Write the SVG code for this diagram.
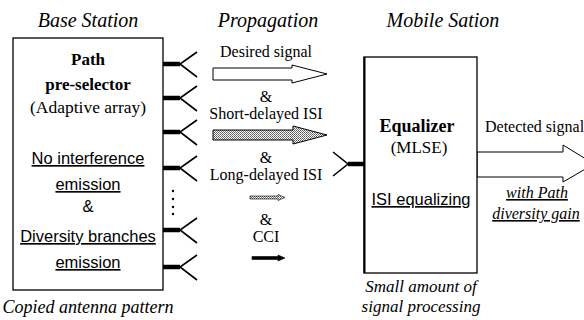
<svg xmlns="http://www.w3.org/2000/svg" width="584" height="320" viewBox="0 0 584 320">
<style>
.hdr{font-size:20px;font-style:italic}
.cap{font-size:18px;font-style:italic}
.lbl{font-size:16px}
.bold{font-weight:bold}
.sans{font-size:16.5px}
.ul{text-decoration:underline}
.box{fill:#fff;stroke:#000;stroke-width:1.3}
.stub{stroke:#000;stroke-width:4.5;fill:none}
.ant{stroke:#000;stroke-width:1.6;fill:none}
.arr{stroke:#000;stroke-width:1;stroke-linejoin:miter}
</style>
<defs>
<pattern id="dots" width="2" height="2" patternUnits="userSpaceOnUse">
<rect width="2" height="2" fill="#fff"/>
<rect width="1" height="1" fill="#555"/>
<rect x="1" y="1" width="1" height="1" fill="#777"/>
</pattern>
<g id="antL">
<line class="stub" x1="0" y1="0" x2="17" y2="0"/>
<polyline class="ant" points="34,-12 17,0 34,13"/>
</g>
</defs>

<g font-family="Liberation Serif, Times New Roman, serif" fill="#000">
<text class="hdr" x="88" y="27" text-anchor="middle">Base Station</text>
<text class="hdr" x="268" y="27" text-anchor="middle">Propagation</text>
<text class="hdr" x="443" y="27" text-anchor="middle">Mobile Sation</text>
<text class="cap" x="88" y="313" text-anchor="middle">Copied antenna pattern</text>
</g>

<!-- Base station node -->
<g id="base-station">
<rect class="box" x="13" y="38" width="150" height="252"/>
<g font-family="Liberation Serif, Times New Roman, serif" fill="#000" text-anchor="middle">
<text class="bold" font-size="17" x="88" y="65">Path</text>
<text class="bold" font-size="17" x="88" y="90">pre-selector</text>
<text font-size="17.5" x="88" y="113">(Adaptive array)</text>
</g>
<g font-family="Liberation Sans, Arial, sans-serif" fill="#000" text-anchor="middle">
<text class="sans ul" x="88" y="164">No interference</text>
<text class="sans ul" x="88" y="190">emission</text>
<text class="sans" x="88" y="212">&amp;</text>
<text class="sans ul" x="88" y="242">Diversity branches</text>
<text class="sans ul" x="88" y="268">emission</text>
</g>
</g>

<g id="base-antennas">
<use href="#antL" x="163" y="64"/>
<use href="#antL" x="163" y="98"/>
<use href="#antL" x="163" y="132"/>
<use href="#antL" x="163" y="168"/>
<use href="#antL" x="163" y="230"/>
<use href="#antL" x="163" y="267"/>
<circle cx="173" cy="191" r="1.2" fill="#000"/>
<circle cx="173" cy="199" r="1.2" fill="#000"/>
<circle cx="173" cy="207" r="1.2" fill="#000"/>
<circle cx="173" cy="214" r="1.2" fill="#000"/>
</g>

<g id="connectors">
<polygon class="arr" fill="#fff" points="213,68 292,68 292,65 327,74 292,83 292,80 213,80"/>
<polygon class="arr" fill="url(#dots)" points="213,130 293,130 293,126 327,135 293,144 293,140 213,140"/>
<polygon fill="url(#dots)" stroke="#000" stroke-width="0.6" points="250,196 278,196 278,194.5 285,197.5 278,200.5 278,199 250,199"/>
<polygon fill="#000" stroke="#000" stroke-width="0.6" points="252,256.5 278,256.5 278,255 285,258 278,261 278,259.5 252,259.5"/>
<polygon class="arr" fill="#fff" points="477,152 563,152 563,145 594,164 563,182 563,177 477,177"/>
</g>

<g id="propagation-labels" font-family="Liberation Serif, Times New Roman, serif" fill="#000" text-anchor="middle">
<text class="lbl" x="266" y="57">Desired signal</text>
<text class="lbl" x="266" y="102">&amp;</text>
<text class="lbl" x="266" y="119">Short-delayed ISI</text>
<text class="lbl" x="266" y="163">&amp;</text>
<text class="lbl" x="266" y="180">Long-delayed ISI</text>
<text class="lbl" x="266" y="225">&amp;</text>
<text class="lbl" x="266" y="242">CCI</text>
</g>

<g id="mobile-antenna">
<line class="stub" x1="348" y1="164" x2="364" y2="164"/>
<polyline class="ant" points="333,152 348,164 333,176"/>
</g>
<g id="mobile-station">
<rect class="box" x="364" y="57" width="113" height="216"/>
<line x1="364.5" y1="57" x2="364.5" y2="273" stroke="#000" stroke-width="2"/>
<g font-family="Liberation Serif, Times New Roman, serif" fill="#000" text-anchor="middle">
<text class="bold" font-size="18" x="417" y="132">Equalizer</text>
<text font-size="17" x="419" y="153">(MLSE)</text>
</g>
<text class="sans ul" font-family="Liberation Sans, Arial, sans-serif" x="421" y="205" text-anchor="middle">ISI equalizing</text>
</g>

<g font-family="Liberation Serif, Times New Roman, serif" fill="#000">
<text class="lbl" x="485" y="132">Detected signal</text>
<text class="lbl ul" font-style="italic" x="537" y="198" text-anchor="middle">with Path</text>
<text class="lbl ul" font-style="italic" x="536" y="219" text-anchor="middle">diversity gain</text>
<text font-size="17" font-style="italic" x="421" y="292" text-anchor="middle">Small amount of</text>
<text font-size="17" font-style="italic" x="421" y="312" text-anchor="middle">signal processing</text>
</g>
</svg>
